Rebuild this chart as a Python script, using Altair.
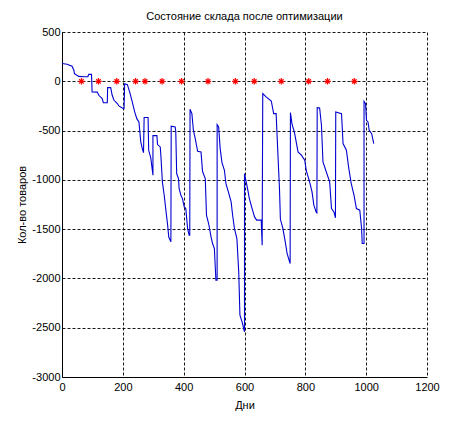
import altair as alt
import pandas as pd

# Inventory level (day, quantity)
days = [0, 17, 33, 39, 41, 55, 72, 85, 88, 97, 99, 116, 121, 132, 136, 149, 150, 160, 165, 171,
        182, 187, 198, 204, 206, 215, 223, 231, 239, 246, 253, 256, 259, 264, 268, 270, 283, 285,
        292, 299, 299, 312, 314, 323, 325, 330, 336, 342, 347, 351, 358, 359, 372, 374, 377, 383,
        385, 391, 396, 402, 407, 410, 413, 418, 420, 421, 427, 432, 438, 446, 457, 462, 471, 475,
        482, 490, 495, 501, 506, 510, 510, 515, 520, 526, 534, 539, 547, 556, 561, 567, 575, 581,
        585, 592, 600, 600, 611, 616, 625, 633, 640, 655, 658, 660, 671, 688, 696, 704, 710, 715,
        718, 726, 734, 740, 748, 750, 751, 756, 765, 776, 787, 798, 803, 814, 822, 828, 836, 838,
        839, 847, 853, 858, 869, 880, 886, 894, 899, 900, 919, 924, 935, 943, 951, 960, 968, 979,
        985, 987, 993, 993, 998, 1001, 1006, 1010, 1018, 1025]
stock = [180, 172, 152, 112, 78, 50, 46, 46, 70, 70, -108, -110, -142, -176, -217, -217, -64, -64,
         -142, -193, -226, -250, -270, -277, -24, -34, -115, -210, -311, -379, -413, -514, -615,
         -683, -724, -368, -368, -700, -780, -953, -551, -551, -642, -666, -750, -1021, -1156,
         -1320, -1450, -1580, -1629, -456, -463, -507, -936, -987, -1088, -1156, -1190, -1274,
         -1291, -1393, -1494, -1562, -1562, -284, -328, -497, -582, -710, -717, -913, -987, -1359,
         -1443, -1579, -1646, -1697, -2018, -2018, -439, -463, -683, -825, -903, -1038, -1122,
         -1223, -1359, -1494, -1595, -1933, -2373, -2440, -2542, -936, -1105, -1190, -1291,
         -1376, -1409, -1409, -1663, -125, -159, -200, -328, -328, -750, -1088, -1400, -1490,
         -1629, -1747, -1830, -1849, -318, -429, -531, -717, -750, -801, -903, -1021, -1122,
         -1257, -1330, -1335, -267, -270, -446, -818, -920, -1021, -1291, -1325, -1385, -311,
         -328, -632, -700, -886, -1038, -1156, -1291, -1308, -1494, -1646, -1646, -203, -227,
         -396, -412, -497, -531, -632]

# Order days (red stars at zero level)
order_days = [64, 120, 180, 242, 273, 329, 393, 480, 570, 632, 721, 811, 873, 961]
order_level = [0] * len(order_days)

x_ticks = [0, 200, 400, 600, 800, 1000, 1200]
y_ticks = [500, 0, -500, -1000, -1500, -2000, -2500, -3000]

line_df = pd.DataFrame({"i": list(range(len(days))), "day": days, "stock": stock})
star_df = pd.DataFrame({"day": order_days, "stock": order_level})

FONT = "Liberation Sans"

xscale = alt.Scale(domain=[0, 1200], nice=False, zero=False)
yscale = alt.Scale(domain=[-3000, 500], nice=False, zero=False)

xaxis = alt.Axis(values=x_ticks, title="Дни", labelExpr="'' + datum.value",
                 titleY=22, titleBaseline="top")
yaxis = alt.Axis(values=y_ticks, title="Кол-во товаров", labelExpr="'' + datum.value",
                 titleX=-40, titleBaseline="middle")

line = alt.Chart(line_df).mark_line(color="#0000d0", strokeWidth=1.1, clip=True).encode(
    x=alt.X("day:Q", scale=xscale, axis=xaxis),
    y=alt.Y("stock:Q", scale=yscale, axis=yaxis),
    order=alt.Order("i:Q"),
)

asterisk = "M-1,0L1,0M0,-1L0,1M-0.7,-0.7L0.7,0.7M-0.7,0.7L0.7,-0.7"
stars = alt.Chart(star_df).mark_point(shape=asterisk, filled=False, color="#ff0000",
                                      strokeWidth=1.2, size=40, opacity=1).encode(
    x=alt.X("day:Q", scale=xscale),
    y=alt.Y("stock:Q", scale=yscale),
)

chart = alt.layer(line, stars).properties(
    width=365,
    height=345,
    title=alt.TitleParams("Состояние склада после оптимизации", font=FONT, fontSize=11,
                          fontWeight="normal", color="black", anchor="middle", offset=4),
    autosize=alt.AutoSizeParams(type="none"),
    padding={"left": 54, "top": 24, "right": 35, "bottom": 38},
).configure_view(stroke=None).configure_axis(
    labelFont=FONT, labelFontSize=11, labelColor="black",
    titleFont=FONT, titleFontSize=11, titleFontWeight="normal", titleColor="black",
    domainColor="black", domainWidth=1,
    grid=True, gridColor="black", gridDash=[3, 2], gridWidth=1, gridOpacity=0.9,
    ticks=False, tickSize=0, labelFlush=False, labelOverlap=False,
).configure_axisX(labelPadding=4).configure_axisY(labelPadding=2)

chart.save("out.html", embed_options={"renderer": "svg", "actions": False})
